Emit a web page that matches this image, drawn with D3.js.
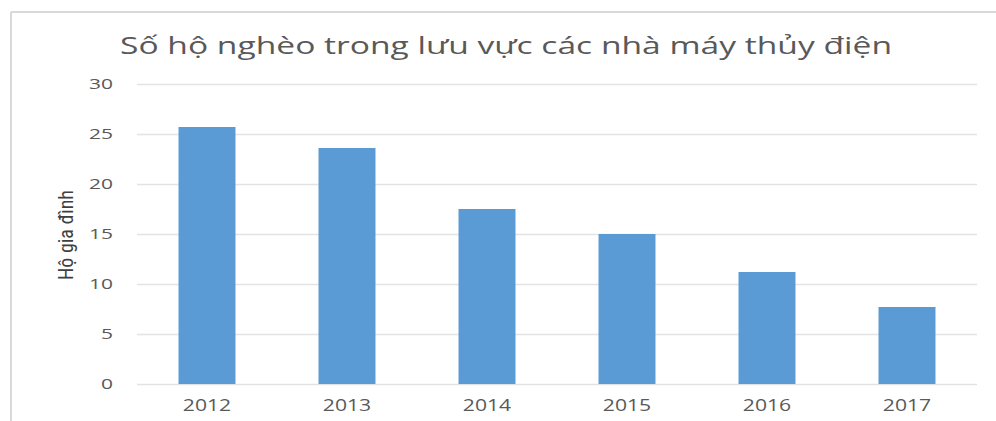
<!DOCTYPE html>
<html>
<head>
<meta charset="utf-8">
<script src="https://cdn.jsdelivr.net/npm/d3@7"></script>
<style>
html,body{margin:0;padding:0;background:#fff;}
svg{display:block;}
</style>
</head>
<body>
<svg id="chart" width="996" height="421"></svg>
<script>
const categories = ["2012","2013","2014","2015","2016","2017"];
const values = [25.7, 23.6, 17.5, 15.0, 11.2, 7.7];
const yTicks = [0,5,10,15,20,25,30];
const title = "Số hộ nghèo trong lưu vực các nhà máy thủy điện";
const yLabel = "Hộ gia đình";

(function(){
const svg = d3.select("#chart");
const W = 996, H = 421;
const pLeft = 137, pRight = 977, pTop = 84, pBottom = 384;
const FONT = "'Open Sans', 'DejaVu Sans', sans-serif";

function stretch(sel, factor){
  sel.each(function(){
    const len = this.getComputedTextLength();
    d3.select(this).attr("textLength", len*factor).attr("lengthAdjust","spacingAndGlyphs");
  });
}

// frame (top and left edges visible)
svg.append("line").attr("x1",11).attr("x2",W).attr("y1",12).attr("y2",12)
  .attr("stroke","#d9d9d9").attr("stroke-width",2);
svg.append("line").attr("x1",11).attr("x2",11).attr("y1",12).attr("y2",H)
  .attr("stroke","#d9d9d9").attr("stroke-width",2);

const x = d3.scaleBand().domain(categories).range([pLeft,pRight]).paddingInner(0.593).paddingOuter(0.2965);
const y = d3.scaleLinear().domain([0,30]).range([pBottom,pTop]);

// gridlines + y ticks
const yAxis = d3.axisLeft(y).tickValues(yTicks).tickSize(-(pRight-pLeft)).tickPadding(24).tickFormat(d3.format("d"));
const gy = svg.append("g").attr("transform",`translate(${pLeft},0)`).call(yAxis);
gy.select(".domain").remove();
gy.selectAll(".tick line").attr("stroke","#e3e3e3").attr("stroke-width",1.3);
gy.selectAll(".tick text").attr("fill","#595959").style("font-family",FONT).style("font-size","15px");
stretch(gy.selectAll(".tick text"), 1.4);

// bars
svg.append("g").selectAll("rect").data(values).join("rect")
  .attr("x",(d,i)=>x(categories[i]))
  .attr("width",x.bandwidth())
  .attr("y",d=>y(d))
  .attr("height",d=>y(0)-y(d))
  .attr("fill","#5b9bd5");

// x axis
const xAxis = d3.axisBottom(x).tickSize(0).tickPadding(16);
const gx = svg.append("g").attr("transform",`translate(0,${pBottom})`).call(xAxis);
gx.select(".domain").remove();
gx.selectAll(".tick text").attr("fill","#595959").style("font-family",FONT).style("font-size","16px");
stretch(gx.selectAll(".tick text"), 1.32);

// title
const t = svg.append("text").attr("x",506).attr("y",54).attr("text-anchor","middle")
  .attr("fill","#595959").style("font-family",FONT).style("font-size","24px")
  .text(title);
t.attr("textLength",772).attr("lengthAdjust","spacingAndGlyphs");

// y label
svg.append("text").attr("transform","translate(73,235) rotate(-90)").attr("text-anchor","middle")
  .attr("fill","#404040").style("font-family","'Liberation Sans Narrow', 'Roboto Condensed', 'DejaVu Sans Condensed', sans-serif").style("font-size","20px")
  .attr("textLength",90).attr("lengthAdjust","spacingAndGlyphs")
  .text(yLabel);
})();
</script>
</body>
</html>
